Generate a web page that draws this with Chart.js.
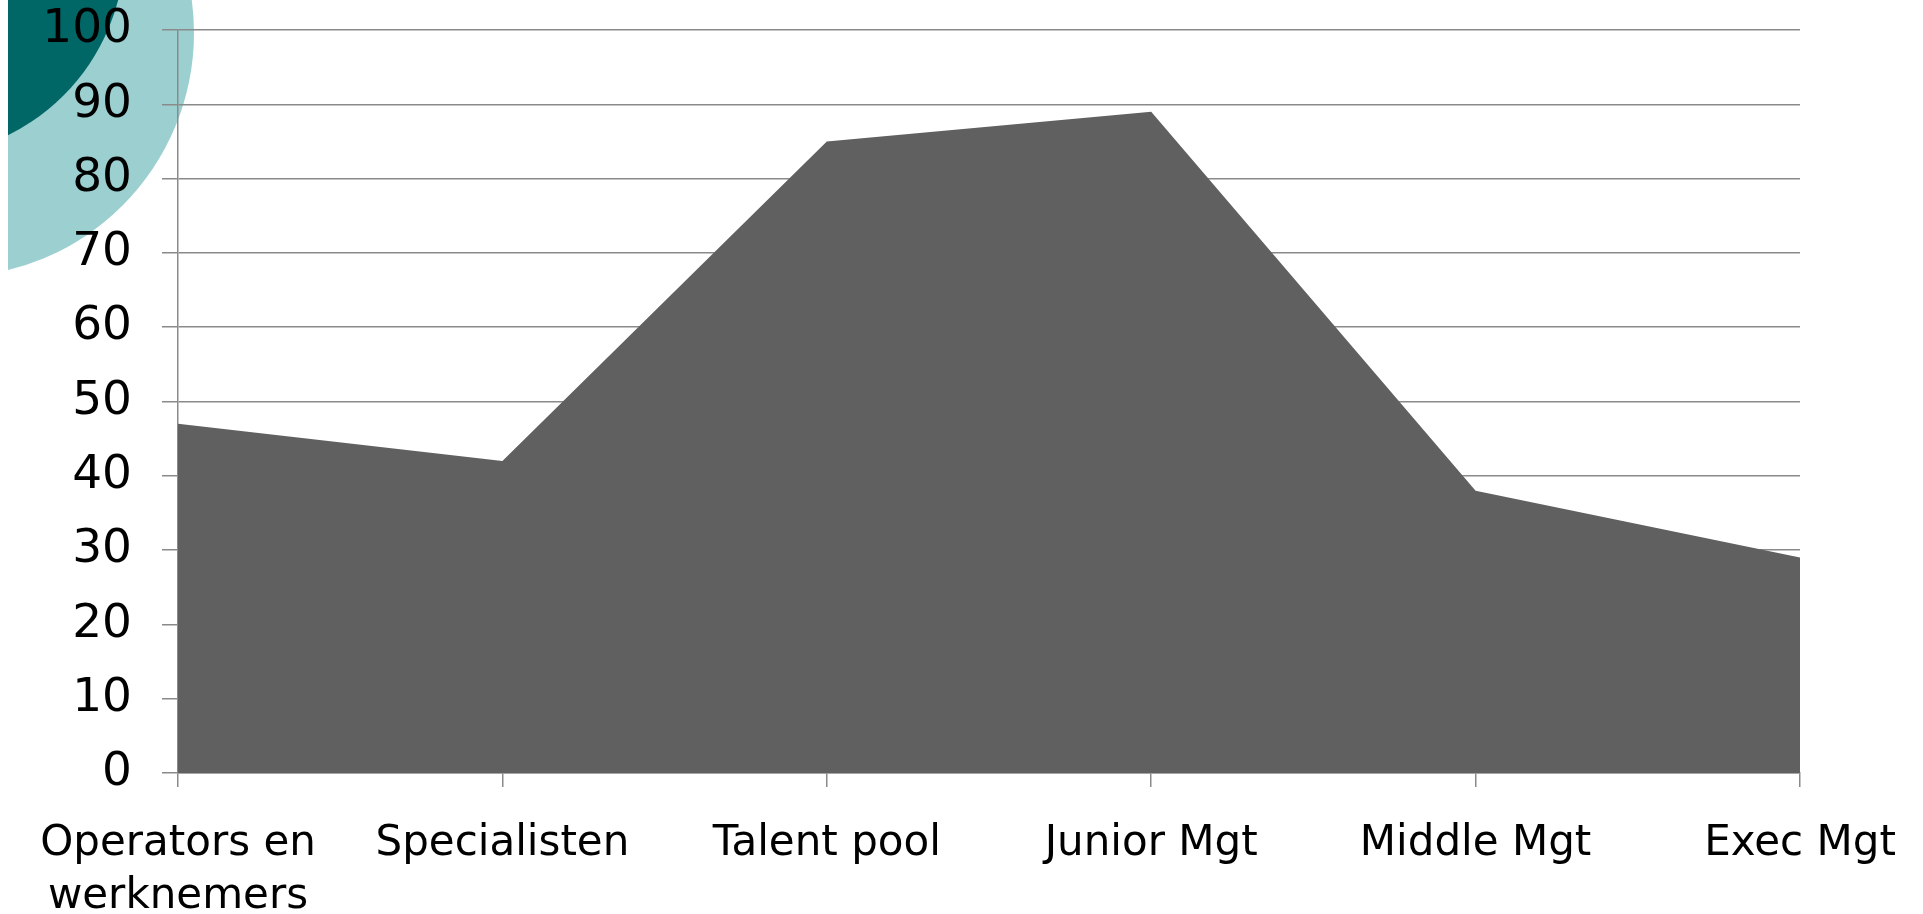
<!DOCTYPE html>
<html lang="nl">
<head>
    <meta charset="UTF-8">
    <title>Chart</title>
    <script src="https://cdn.jsdelivr.net/npm/chart.js"></script>
    <style>
        body { margin: 0; background: #fff; }
        #wrap { position: relative; width: 1923px; height: 914px; overflow: hidden; }
        /* decoratieve cirkels linksboven */
        #deco { position: absolute; left: 8px; top: 0; width: 400px; height: 400px; overflow: hidden; }
        .circle { position: absolute; border-radius: 50%; }
        #light { left: -302px; top: -211px; width: 488px; height: 488px; background: #9ccfd0; }
        #dark { left: -303px; top: -263px; width: 420px; height: 420px; background: #006666; }
        canvas { position: absolute; left: 0; top: 0; }
    </style>
</head>
<body>
<div id="wrap">
    <div id="deco">
        <div class="circle" id="light"></div>
        <div class="circle" id="dark"></div>
    </div>
    <canvas id="areaChart" width="1923" height="914"></canvas>
</div>

<script>
    const categories = [
        ["Operators en", "werknemers"],
        "Specialisten",
        "Talent pool",
        "Junior Mgt",
        "Middle Mgt",
        "Exec Mgt"
    ];
    const values = [47, 42, 85, 89, 38, 29];

    const gridColor = "#8a8a8a";

    const ctx = document.getElementById("areaChart").getContext("2d");
    new Chart(ctx, {
        type: "line",
        data: {
            labels: categories,
            datasets: [{
                label: "Serie",
                data: values,
                fill: "origin",
                backgroundColor: "#606060",
                borderWidth: 0,
                pointRadius: 0,
                tension: 0
            }]
        },
        options: {
            responsive: false,
            animation: false,
            layout: {
                padding: { top: 30, left: 0, right: 123, bottom: 0 }
            },
            plugins: {
                legend: { display: false },
                tooltip: { enabled: false }
            },
            scales: {
                x: {
                    z: 1,
                    grid: {
                        drawOnChartArea: false,
                        drawTicks: true,
                        tickLength: 14,
                        color: gridColor,
                        lineWidth: 1.5
                    },
                    border: { color: gridColor, width: 1.5 },
                    ticks: {
                        color: "#000",
                        padding: 31,
                        maxRotation: 0,
                        autoSkip: false,
                        font: { family: "DejaVu Sans", size: 42, lineHeight: 1.25 }
                    },
                    afterFit: scale => {
                        scale.height = 141;
                        scale.paddingLeft = 0;
                        scale.paddingRight = 0;
                    }
                },
                y: {
                    min: 0,
                    max: 100,
                    ticks: {
                        stepSize: 10,
                        color: "#000",
                        padding: 30,
                        font: { family: "DejaVu Sans", size: 47 }
                    },
                    grid: {
                        color: gridColor,
                        lineWidth: 1.5,
                        tickLength: 16
                    },
                    border: { color: gridColor, width: 1.5 },
                    afterFit: scale => {
                        scale.width = 178;
                        scale.paddingTop = 0;
                        scale.paddingBottom = 0;
                    }
                }
            }
        }
    });
</script>
</body>
</html>
